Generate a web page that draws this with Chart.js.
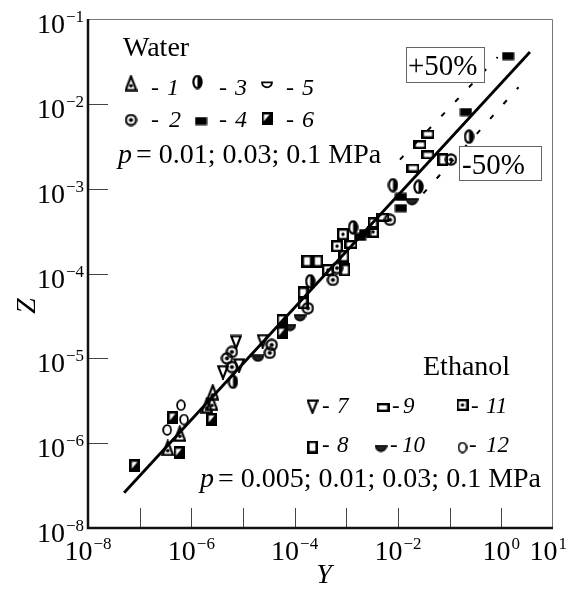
<!DOCTYPE html>
<html>
<head>
<meta charset="utf-8">
<script src="https://cdn.jsdelivr.net/npm/chart.js@4"></script>
<style>
  body { margin: 0; background: #fff; }
  canvas { display: block; }
</style>
</head>
<body>
<canvas id="chart" width="573" height="589"></canvas>
<script>
// Y (x axis) and Z (y axis) values, one pair of arrays per marker
const y1 = [3.5e-7, 6.0e-7, 2.0e-6, 2.5e-6, 2.6e-6];
const z1 = [8.8e-7, 1.3e-6, 2.8e-6, 3.0e-6, 4.0e-6];
const y2 = [4.9e-6, 6.1e-6, 6.1e-6, 3.6e-5, 3.3e-5, 1.8e-4, 6.6e-4, 5.5e-4, 7.0e-3, 0.106];
const z2 = [1.0e-5, 1.19e-5, 7.9e-6, 1.44e-5, 1.16e-5, 3.9e-5, 1.16e-4, 8.4e-5, 4.3e-4, 2.2e-3];
const y3 = [6.4e-6, 2.0e-4, 1.35e-3, 8.0e-3, 0.025, 0.237];
const z3 = [5.3e-6, 8.1e-5, 3.5e-4, 1.1e-3, 1.05e-3, 4.1e-3];
const y4 = [1.84e-3, 2.3e-3, 0.0114, 0.0114, 0.207, 1.35];
const z4 = [2.7e-4, 3.0e-4, 8.0e-4, 5.9e-4, 8.0e-3, 0.0366];
const y5 = [];
const z5 = [];
const y6 = [8.1e-8, 5.8e-7, 4.4e-7, 2.5e-6, 5.7e-5, 5.7e-5];
const z6 = [5.4e-7, 7.7e-7, 2.0e-6, 1.9e-6, 2.8e-5, 2.0e-5];
const y7 = [4.1e-6, 8.4e-6, 7.3e-6, 2.4e-5];
const z7 = [6.9e-6, 8.3e-6, 1.56e-5, 1.6e-5];
const y8 = [1.45e-4, 1.45e-4, 1.73e-4, 2.8e-4, 9.4e-4, 9.0e-4, 3.3e-3, 0.074];
const z8 = [5.9e-5, 4.5e-5, 1.4e-4, 1.4e-4, 1.1e-4, 1.6e-4, 3.9e-4, 2.2e-3];
const y9 = [1.23e-3, 5.1e-3, 0.0195, 0.038, 0.0266, 0.038];
const z9 = [2.2e-4, 4.6e-4, 1.75e-3, 2.5e-3, 3.3e-3, 4.4e-3];
const y10 = [1.95e-5, 8.1e-5, 1.27e-4, 0.0187];
const z10 = [1.0e-5, 2.3e-5, 3.0e-5, 7.0e-4];
const y11 = [4.4e-4, 6.6e-4, 8.6e-4, 3.3e-3];
const z11 = [1.1e-4, 2.1e-4, 2.9e-4, 3.1e-4];
const y12 = [3.4e-7, 6.3e-7, 7.2e-7];
const z12 = [1.43e-6, 2.8e-6, 1.9e-6];

// fitted line and the +50% / -50% bands (end points)
const fitY = [5.0e-8, 3.58];
const fitZ = [2.6e-7, 0.0408];
const upperY = [0.0109, 0.85];
const upperZ = [2.2e-3, 0.0355];
const lowerY = [0.031, 2.15];
const lowerZ = [8.8e-4, 0.0157];

// tick marks and labels (exponents of 10, as printed)
const xTickExps = [-7, -6, -5, -4, -3, -2, -1, 0];
const xLabelExps = [-8, -6, -4, -2, 0, 1];
const yTickExps = [-6, -5, -4, -3, -2];
const yLabelExps = [-7, -6, -5, -4, -3, -2, -1];
const yLabelText = ['−8', '−6', '−5', '−4', '−3', '−2', '−1'];

const SERIF = '"Liberation Serif", "Times New Roman", serif';

function makeMarker(kind) {
  const dims = {1: [13, 17], 2: [13, 13], 3: [11, 15], 4: [13, 9], 5: [12, 8], 6: [11, 13],
                7: [12, 15], 8: [11, 13], 9: [13, 9], 10: [13, 8], 11: [12, 12], 12: [10, 12]};
  const c = document.createElement('canvas');
  c.width = dims[kind][0];
  c.height = dims[kind][1];
  const g = c.getContext('2d');
  g.strokeStyle = '#000';
  g.fillStyle = '#000';
  g.lineWidth = 2.2;
  g.lineJoin = 'miter';
  g.beginPath();
  switch (kind) {
    case 1:
      g.moveTo(6.5, 1.8); g.lineTo(11.8, 15.6); g.lineTo(1.2, 15.6); g.closePath(); g.stroke();
      g.beginPath(); g.arc(6.5, 11.3, 1.8, 0, Math.PI * 2); g.fill();
      break;
    case 2:
      g.arc(6.5, 6.5, 5.1, 0, Math.PI * 2); g.stroke();
      g.beginPath(); g.arc(6.5, 6.5, 2.1, 0, Math.PI * 2); g.fill();
      break;
    case 3:
      g.ellipse(5.5, 7.5, 4.1, 6.2, 0, 0, Math.PI * 2); g.stroke();
      g.beginPath(); g.ellipse(5.5, 7.5, 4.1, 6.2, 0, -Math.PI / 2, Math.PI / 2); g.closePath(); g.fill();
      break;
    case 4:
      g.fillRect(0.5, 0.5, 12, 8);
      break;
    case 5:
      g.lineWidth = 1.8;
      g.moveTo(1, 1.3); g.lineTo(11, 1.3); g.arc(6, 1.3, 5, 0, Math.PI); g.closePath(); g.stroke();
      break;
    case 6:
      g.fillRect(0, 0, 11, 13);
      g.fillStyle = '#fff';
      g.moveTo(2.4, 2.4); g.lineTo(8, 2.4); g.lineTo(2.4, 9.2); g.closePath(); g.fill();
      break;
    case 7:
      g.moveTo(1.2, 1.6); g.lineTo(10.8, 1.6); g.lineTo(6, 13.8); g.closePath(); g.stroke();
      break;
    case 8:
      g.lineWidth = 2.6;
      g.strokeRect(1.3, 1.3, 8.4, 10.4);
      break;
    case 9:
      g.lineWidth = 2.4;
      g.strokeRect(1.2, 1.2, 10.6, 6.6);
      break;
    case 10:
      g.lineWidth = 1.4;
      g.moveTo(0.8, 1); g.lineTo(12.2, 1); g.arc(6.5, 1, 5.7, 0, Math.PI); g.closePath();
      g.fillStyle = '#222'; g.fill(); g.stroke();
      break;
    case 11:
      g.lineWidth = 2.4;
      g.strokeRect(1.2, 1.2, 9.6, 9.6);
      g.beginPath(); g.arc(6, 6, 1.7, 0, Math.PI * 2); g.fill();
      break;
    case 12:
      g.lineWidth = 1.8;
      g.ellipse(5, 6, 3.9, 4.9, 0, 0, Math.PI * 2); g.stroke();
      break;
  }
  return c;
}

const markers = {};
for (let k = 1; k <= 12; k++) markers[k] = makeMarker(k);

const pairs = (xs, ys) => xs.map((v, i) => ({x: v, y: ys[i]}));

const seriesY = [y1, y2, y3, y4, y5, y6, y7, y8, y9, y10, y11, y12];
const seriesZ = [z1, z2, z3, z4, z5, z6, z7, z8, z9, z10, z11, z12];

const lineSet = (xs, ys, width, dash) => ({
  data: pairs(xs, ys), showLine: true, pointRadius: 0, borderColor: '#000',
  borderWidth: width, borderDash: dash, fill: false
});

const datasets = [
  lineSet(fitY, fitZ, 2.8, []),
  lineSet(upperY, upperZ, 2, [5, 15]),
  lineSet(lowerY, lowerZ, 2, [5, 15])
];
seriesY.forEach((ys, i) => {
  datasets.push({
    data: pairs(ys, seriesZ[i]),
    pointStyle: markers[i + 1],
    pointRadius: 5,
    showLine: false
  });
});

function drawPow(ctx, left, base, exp) {
  ctx.font = '28px ' + SERIF;
  ctx.fillText('10', left, base);
  const w = ctx.measureText('10').width;
  ctx.font = '17px ' + SERIF;
  ctx.fillText(exp, left + w + 1, base - 11);
}

function powWidth(ctx, exp) {
  ctx.font = '28px ' + SERIF;
  const a = ctx.measureText('10').width;
  ctx.font = '17px ' + SERIF;
  return a + 1 + ctx.measureText(exp).width;
}

function legendItem(ctx, kind, cx, cy, dashX, numX, base, size) {
  const m = markers[kind];
  ctx.drawImage(m, cx - m.width / 2, cy - m.height / 2);
  ctx.font = size + 'px ' + SERIF;
  ctx.fillText('-', dashX, base);
  ctx.font = 'italic ' + size + 'px ' + SERIF;
  ctx.fillText(String(kind), numX, base);
}

function pressureLine(ctx, x, base, rest) {
  ctx.font = 'italic 28px ' + SERIF;
  ctx.fillText('p', x, base);
  const w = ctx.measureText('p').width;
  ctx.font = '28px ' + SERIF;
  ctx.fillText('= ' + rest, x + w + 4, base);
}

function box(ctx, x, y, w, h, text, tx, tb) {
  ctx.fillStyle = '#fff';
  ctx.fillRect(x, y, w, h);
  ctx.strokeStyle = '#666';
  ctx.lineWidth = 1;
  ctx.strokeRect(x + 0.5, y + 0.5, w, h);
  ctx.fillStyle = '#000';
  ctx.font = '29px ' + SERIF;
  ctx.fillText(text, tx, tb);
}

const decor = {
  id: 'decor',
  afterDraw(chart) {
    const ctx = chart.ctx;
    const a = chart.chartArea;
    const sx = chart.scales.x, sy = chart.scales.y;
    ctx.save();
    // thin top / right frame
    ctx.strokeStyle = '#777';
    ctx.lineWidth = 1;
    ctx.beginPath();
    ctx.moveTo(a.left, a.top + 0.5); ctx.lineTo(a.right - 0.5, a.top + 0.5); ctx.lineTo(a.right - 0.5, a.bottom);
    ctx.stroke();
    // inner ticks
    ctx.strokeStyle = '#444';
    ctx.beginPath();
    xTickExps.forEach(e => {
      const px = Math.round(sx.getPixelForValue(Math.pow(10, e))) + 0.5;
      ctx.moveTo(px, a.bottom); ctx.lineTo(px, a.bottom - 20);
    });
    yTickExps.forEach(e => {
      const py = Math.round(sy.getPixelForValue(Math.pow(10, e))) + 0.5;
      ctx.moveTo(a.left, py); ctx.lineTo(a.left + 20, py);
    });
    ctx.stroke();
    // heavy left / bottom axes
    ctx.strokeStyle = '#111';
    ctx.lineWidth = 2.5;
    ctx.beginPath();
    ctx.moveTo(a.left, a.top); ctx.lineTo(a.left, a.bottom); ctx.lineTo(a.right, a.bottom);
    ctx.stroke();

    ctx.fillStyle = '#000';
    ctx.textBaseline = 'alphabetic';
    ctx.textAlign = 'left';
    // x tick labels
    xLabelExps.forEach(e => {
      const txt = e < 0 ? '−' + (-e) : String(e);
      const w = powWidth(ctx, txt);
      let left = sx.getPixelForValue(Math.pow(10, e)) - w / 2;
      left = Math.min(left, 567 - w);
      drawPow(ctx, left, 560, txt);
    });
    // y tick labels
    yLabelExps.forEach((e, i) => {
      const txt = yLabelText[i];
      const w = powWidth(ctx, txt);
      const py = sy.getPixelForValue(Math.pow(10, e));
      drawPow(ctx, 84 - w, py + 14, txt);
    });
    // axis titles
    ctx.font = 'italic 28px ' + SERIF;
    ctx.textAlign = 'center';
    ctx.fillText('Y', 324, 583);
    ctx.save();
    ctx.translate(35, 306);
    ctx.rotate(-Math.PI / 2);
    ctx.fillText('Z', 0, 0);
    ctx.restore();
    ctx.textAlign = 'left';

    // water legend
    ctx.font = '28px ' + SERIF;
    ctx.fillText('Water', 123, 56);
    legendItem(ctx, 1, 131, 83, 151, 167, 95, 24);
    legendItem(ctx, 3, 197.5, 82, 219, 235, 95, 24);
    legendItem(ctx, 5, 267, 85, 286, 302, 95, 24);
    legendItem(ctx, 2, 131, 120, 151, 169, 127, 24);
    legendItem(ctx, 4, 201, 121, 219, 235, 127, 24);
    legendItem(ctx, 6, 267, 118.5, 286, 302, 127, 24);
    pressureLine(ctx, 118, 163, '0.01; 0.03; 0.1 MPa');

    // ethanol legend
    ctx.font = '28px ' + SERIF;
    ctx.fillText('Ethanol', 423, 375);
    legendItem(ctx, 7, 312.5, 406.5, 322, 337, 413, 23);
    legendItem(ctx, 9, 383, 407.5, 392, 403, 413, 23);
    legendItem(ctx, 11, 462.5, 405, 471, 486, 413, 23);
    legendItem(ctx, 8, 312.5, 447, 322, 337, 452, 23);
    legendItem(ctx, 10, 381, 448.5, 390, 402, 452, 23);
    legendItem(ctx, 12, 462.5, 447.5, 469, 486, 452, 23);
    pressureLine(ctx, 200, 487, '0.005; 0.01; 0.03; 0.1 MPa');

    // band labels
    box(ctx, 406, 47, 78, 35, '+50%', 408, 75);
    box(ctx, 459, 146, 82, 34, '-50%', 462, 174);
    ctx.restore();
  }
};

new Chart(document.getElementById('chart'), {
  type: 'scatter',
  data: {datasets},
  options: {
    responsive: false,
    animation: false,
    layout: {padding: {left: 88, top: 19, right: 20, bottom: 61}},
    plugins: {legend: {display: false}, tooltip: {enabled: false}},
    scales: {
      x: {type: 'logarithmic', min: 1e-8, max: 10, display: false},
      y: {type: 'logarithmic', min: 1e-7, max: 1e-1, display: false}
    }
  },
  plugins: [decor]
});
</script>
</body>
</html>
